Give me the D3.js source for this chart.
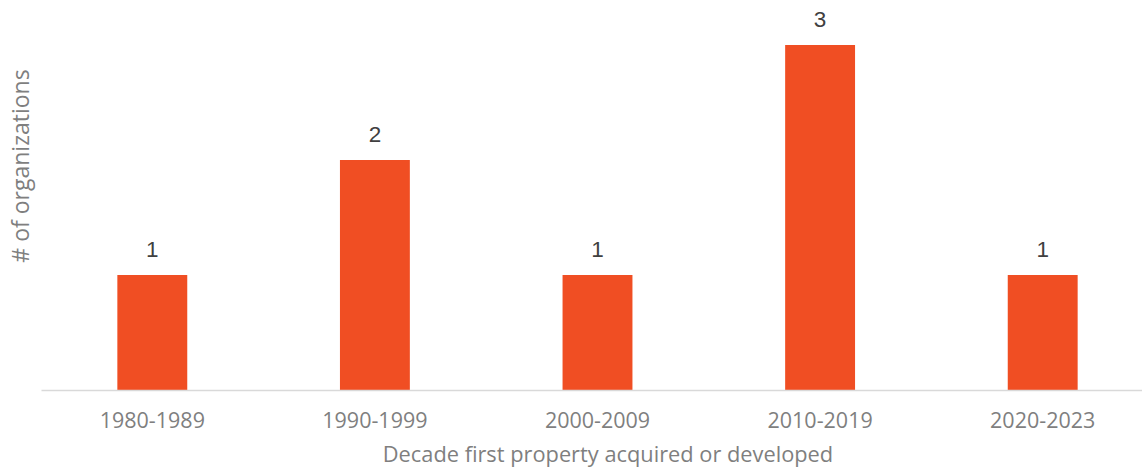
<!DOCTYPE html>
<html>
<head>
<meta charset="utf-8">
<script src="https://cdn.jsdelivr.net/npm/d3@7"></script>
<style>
  html, body { margin: 0; padding: 0; background: #fff; }
  svg { display: block; font-family: "Open Sans", sans-serif; }
</style>
</head>
<body>
<svg id="chart" width="1142" height="473"></svg>
<script>
// Organizations by decade their first property was acquired or developed
const decades = ["1980-1989", "1990-1999", "2000-2009", "2010-2019", "2020-2023"];
const orgCounts = [1, 2, 1, 3, 1];

const svg = d3.select("#chart");
const margin = { left: 41, right: -12, top: 45, bottom: 83 };
const width = 1142, height = 473;

const x = d3.scaleBand()
  .domain(decades)
  .range([margin.left, width - margin.right])
  .paddingInner(0.686)
  .paddingOuter(0.343);

const y = d3.scaleLinear()
  .domain([0, 3])
  .range([height - margin.bottom, margin.top]);

// bars
svg.append("g").selectAll("rect")
  .data(decades)
  .join("rect")
  .attr("x", d => x(d))
  .attr("y", (d, i) => y(orgCounts[i]))
  .attr("width", x.bandwidth())
  .attr("height", (d, i) => y(0) - y(orgCounts[i]))
  .attr("fill", "#f04e23");

// value labels
svg.append("g").selectAll("text")
  .data(decades)
  .join("text")
  .attr("x", d => x(d) + x.bandwidth() / 2)
  .attr("y", (d, i) => y(orgCounts[i]) - 18)
  .attr("text-anchor", "middle")
  .attr("font-size", 22.5)
  .attr("font-family", "Liberation Sans, Arial, sans-serif")
  .attr("fill", "#404040")
  .text((d, i) => orgCounts[i]);

// x axis
const xAxis = svg.append("g")
  .attr("transform", `translate(0,${y(0)})`)
  .call(d3.axisBottom(x).tickSize(0).tickPadding(23));
xAxis.select(".domain").attr("stroke", "#d9d9d9").attr("stroke-width", 1.5);
xAxis.selectAll(".tick text")
  .attr("font-size", 21.5)
  .attr("font-family", "Open Sans, sans-serif")
  .attr("fill", "#7f7f7f");

// axis titles
svg.append("text")
  .attr("x", 608)
  .attr("y", 462)
  .attr("text-anchor", "middle")
  .attr("font-size", 21.8)
  .attr("fill", "#7f7f7f")
  .text("Decade first property acquired or developed");

svg.append("text")
  .attr("transform", "translate(29,166) rotate(-90)")
  .attr("text-anchor", "middle")
  .attr("font-size", 23)
  .attr("fill", "#7f7f7f")
  .text("# of organizations");
</script>
</body>
</html>
